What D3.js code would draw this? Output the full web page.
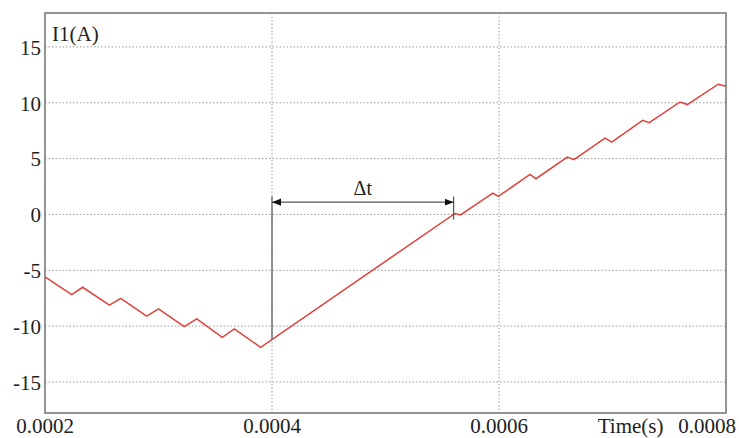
<!DOCTYPE html>
<html>
<head>
    <title>I1 current</title>
    <style>
    body { margin: 0; background: #fff; }
    .grid line { stroke: #9a9a9a; stroke-width: 1; stroke-dasharray: 1.5,2; }
    .frame { fill: none; stroke: #7a7a7a; stroke-width: 1.6; }
    .trace { fill: none; stroke: #e0403c; stroke-width: 1.5; }
    .dim line { stroke: #555; stroke-width: 1.2; }
    </style>
</head>
<body>
<svg id="chart"></svg>
<script src="https://d3js.org/d3.v7.min.js"></script>
<script>
// current waveform I1 (A) vs time (s), corners
var times = [0.0002, 0.0002235, 0.0002332, 0.0002567, 0.0002667, 0.0002896, 0.0003000,
             0.0003227, 0.0003337, 0.0003562, 0.0003668, 0.0003900,
             0.0005612, 0.0005661, 0.0005945, 0.0005994, 0.0006273, 0.0006326,
             0.0006602, 0.0006661, 0.0006934, 0.0006993, 0.0007266, 0.0007324,
             0.0007595, 0.0007659, 0.0007932, 0.0008];
var current = [-5.6, -7.17, -6.52, -8.12, -7.51, -9.10, -8.46,
               -10.04, -9.35, -11.0, -10.25, -11.9,
               0.09, -0.04, 1.91, 1.61, 3.59, 3.20,
               5.14, 4.91, 6.84, 6.48, 8.43, 8.22,
               10.07, 9.84, 11.66, 11.48];

var xTicks = [0.0002, 0.0004, 0.0006, 0.0008];
var xTickLabels = ["0.0002", "0.0004", "0.0006", "0.0008"];
var yTicks = [-15, -10, -5, 0, 5, 10, 15];

// delta-t marker: start, end, arrow level, top of the marker lines
var dtStart = 0.0004, dtEnd = 0.00056;
var dtLevel = 1.1, dtTop = 1.6, dtEndLow = -0.45;

var W = 739, H = 438;
var margin = { top: 13, right: 13, bottom: 25, left: 45 };
var width = W - margin.left - margin.right,
    height = H - margin.top - margin.bottom;
var serif = "'Liberation Serif', 'DejaVu Serif', serif";

var svg = d3.select("svg#chart").attr("width", W).attr("height", H)
    .attr("font-family", serif);

var x = d3.scaleLinear().domain([0.0002, 0.0008]).range([0, width]);
var y = d3.scaleLinear().domain([-17.78, 18.04]).range([height, 0]);

var defs = svg.append("defs");
defs.append("marker")
    .attr("id", "arr")
    .attr("viewBox", "0 0 10 10")
    .attr("refX", 10).attr("refY", 5)
    .attr("markerWidth", 9).attr("markerHeight", 9)
    .attr("markerUnits", "userSpaceOnUse")
    .attr("orient", "auto-start-reverse")
    .append("path")
    .attr("d", "M0,1 L10,5 L0,9 Z")
    .attr("fill", "#111");

var g = svg.append("g")
    .attr("transform", "translate(" + margin.left + "," + margin.top + ")");

// grid
var grid = g.append("g").attr("class", "grid");
grid.selectAll("line.gy").data(yTicks).enter().append("line")
    .attr("class", "gy")
    .attr("x1", 0).attr("x2", width)
    .attr("y1", function(d) { return y(d); })
    .attr("y2", function(d) { return y(d); });
grid.selectAll("line.gx").data(xTicks.slice(1, -1)).enter().append("line")
    .attr("class", "gx")
    .attr("y1", 0).attr("y2", height)
    .attr("x1", function(d) { return x(d); })
    .attr("x2", function(d) { return x(d); });

// y labels
var ya = g.append("g")
    .attr("class", "axis axis--y")
    .call(d3.axisLeft(y).tickValues(yTicks).tickSize(0).tickPadding(4)
        .tickFormat(function(d) { return d < 0 ? "-" + Math.abs(d) : d; }));
ya.select(".domain").remove();
ya.attr("font-family", serif).attr("font-size", 21);
ya.selectAll("text").attr("fill", "#222").attr("dy", "0.35em");

// x labels
g.append("g")
    .attr("class", "axis axis--x")
    .attr("font-size", 21)
    .attr("fill", "#222")
    .selectAll("text").data(xTicks).enter().append("text")
    .attr("x", function(d, i) { return i == xTicks.length - 1 ? x(d) + 10 : x(d); })
    .attr("y", height + 20)
    .attr("text-anchor", function(d, i) { return i == xTicks.length - 1 ? "end" : "middle"; })
    .text(function(d, i) { return xTickLabels[i]; });

g.append("text")
    .attr("x", x(0.000716))
    .attr("y", height + 20)
    .attr("text-anchor", "middle")
    .attr("font-size", 21)
    .attr("fill", "#222")
    .text("Time(s)");

g.append("text")
    .attr("x", 7)
    .attr("y", 28)
    .attr("font-size", 21)
    .attr("fill", "#222")
    .text("I1(A)");

// waveform
var line = d3.line()
    .x(function(d, i) { return x(times[i]); })
    .y(function(d) { return y(d); });
g.append("path")
    .datum(current)
    .attr("class", "trace")
    .attr("d", line);

// delta t marker
var dim = g.append("g").attr("class", "dim");
dim.append("line")
    .attr("x1", x(dtStart)).attr("x2", x(dtStart))
    .attr("y1", y(dtTop)).attr("y2", y(-11.2));
dim.append("line")
    .attr("x1", x(dtEnd)).attr("x2", x(dtEnd))
    .attr("y1", y(dtTop)).attr("y2", y(dtEndLow));
dim.append("line")
    .attr("x1", x(dtStart)).attr("x2", x(dtEnd))
    .attr("y1", y(dtLevel)).attr("y2", y(dtLevel))
    .attr("stroke", "#888")
    .attr("marker-start", "url(#arr)")
    .attr("marker-end", "url(#arr)");
g.append("text")
    .attr("x", (x(dtStart) + x(dtEnd)) / 2)
    .attr("y", y(dtLevel) - 7)
    .attr("text-anchor", "middle")
    .attr("font-size", 20)
    .attr("fill", "#222")
    .text("\u0394t");

// frame
g.append("rect")
    .attr("class", "frame")
    .attr("width", width)
    .attr("height", height);
</script>
</body>
</html>
